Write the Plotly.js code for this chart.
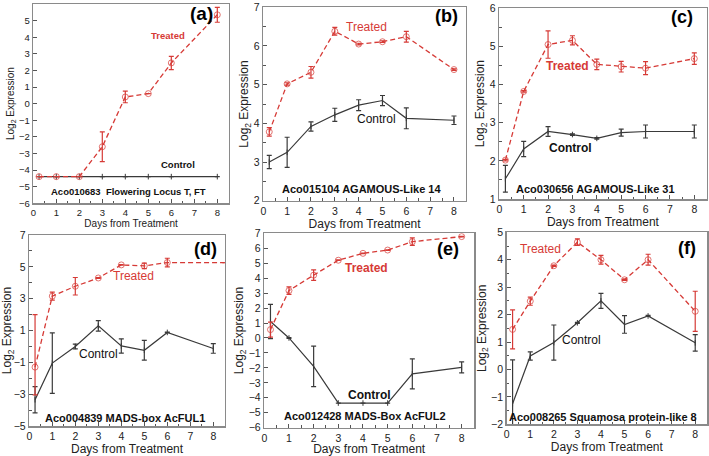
<!DOCTYPE html>
<html>
<head>
<meta charset="utf-8">
<script src="https://cdn.plot.ly/plotly-3.0.1.min.js"></script>
<style>html,body{margin:0;padding:0;background:#fff}#chart{width:709px;height:456px}</style>
</head>
<body>
<div id="chart"></div>
<script>
// ---- data (days from treatment) ----
const days = [0.25, 1, 2, 3, 4, 5, 6, 8];
const daysD = [0.25, 1, 2, 3, 4, 5, 6, 8.5];
const tickDays = [0, 1, 2, 3, 4, 5, 6, 7, 8];

// (a) Aco010683 Flowering Locus T, FT
const aTreated = [-4.4, -4.4, -4.4, -2.6, 0.4, 0.6, 2.45, 5.35];
const aTreatedErr = [0, 0, 0, 0.9, 0.35, 0, 0.4, 0.45];
const aControl = [-4.4, -4.4, -4.4, -4.4, -4.4, -4.4, -4.4, -4.4];
const aControlErr = [0, 0, 0, 0, 0, 0, 0, 0];

// (b) Aco015104 AGAMOUS-Like 14
const bTreated = [3.78, 5.02, 5.32, 6.38, 6.05, 6.11, 6.24, 5.39];
const bTreatedErr = [0.11, 0.03, 0.15, 0.1, 0.02, 0.02, 0.14, 0.02];
const bControl = [3.0, 3.25, 3.92, 4.22, 4.47, 4.59, 4.13, 4.08];
const bControlErr = [0.17, 0.39, 0.12, 0.17, 0.14, 0.13, 0.27, 0.11];

// (c) Aco030656 AGAMOUS-Like 31
const cTreated = [2.02, 3.82, 5.05, 5.16, 4.53, 4.47, 4.43, 4.68];
const cTreatedErr = [0.02, 0.02, 0.36, 0.12, 0.14, 0.14, 0.17, 0.15];
const cControl = [1.53, 2.31, 2.77, 2.69, 2.59, 2.74, 2.77, 2.77];
const cControlErr = [0.35, 0.2, 0.13, 0.02, 0.02, 0.09, 0.17, 0.17];

// (d) Aco004839 MADS-box AcFUL1
const dTreated = [-1.3, 3.16, 3.78, 4.3, 5.12, 5.06, 5.27, 5.27];
const dTreatedErr = [3.3, 0.25, 0.55, 0.02, 0.02, 0.17, 0.27, 0];
const dTreatedErrMinus = [1.75, 0.25, 0.55, 0.02, 0.02, 0.17, 0.27, 0];
const dControl = [-3.35, -1.05, 0.0, 1.29, 0.03, -0.24, 0.88, -0.13];
const dControlErr = [0.82, 1.9, 0.15, 0.33, 0.45, 0.62, 0.02, 0.3];

// (e) Aco012428 MADS-Box AcFUL2
const eTreated = [0.56, 3.17, 4.2, 5.2, 5.66, 5.88, 6.44, 6.78];
const eTreatedErr = [0.5, 0.25, 0.35, 0.02, 0.02, 0.02, 0.25, 0.02];
const eControl = [1.1, 0.0, -1.9, -4.35, -4.35, -4.35, -2.4, -1.97];
const eControlErr = [1.15, 0.02, 1.35, 0, 0, 0, 1.0, 0.37];

// (f) Aco008265 Squamosa protein-like 8
const fTreated = [1.46, 2.49, 3.78, 4.64, 4.0, 3.27, 4.0, 2.12];
const fTreatedErr = [0.71, 0.15, 0.02, 0.12, 0.16, 0.02, 0.2, 0.73];
const fControl = [-1.25, 0.49, 0.98, 1.7, 2.5, 1.64, 1.95, 0.97];
const fControlErr = [1.6, 0.15, 0.64, 0.02, 0.27, 0.32, 0.02, 0.3];

const geneNames = ['Aco010683  Flowering Locus T, FT', 'Aco015104 AGAMOUS-Like 14', 'Aco030656 AGAMOUS-Like 31',
                   'Aco004839 MADS-box AcFUL1', 'Aco012428 MADS-Box AcFUL2', 'Aco008265 Squamosa protein-like 8'];
const panelTags = ['(a)', '(b)', '(c)', '(d)', '(e)', '(f)'];
const seriesNames = ['Treated', 'Control'];

// ---- layout helpers ----
const W = 709, H = 456;
const RED = '#d63a36', BLK = '#3a3a3a';
const FONT = 'Liberation Sans, Arial, sans-serif';

const panels = [
  {tx: days, t: aTreated, te: aTreatedErr, c: aControl, ce: aControlErr, px: [33.3, 228.8], py: [4, 203.2], yr: [-6, 6], dt: 1, t0: 0, mdt: 0, fs: 9.5,
   lab: {tr: [5.86, 4.12, true], co: [6.29, -3.64, true], ti: [4.12, -5.27], tag: [7.3, 5.4]}, small: true},
  {tx: days, t: bTreated, te: bTreatedErr, c: bControl, ce: bControlErr, px: [263.3, 465.9], py: [7.3, 200.7], yr: [2, 7], dt: 1, t0: 0, mdt: 0.5, fs: 11,
   lab: {tr: [4.35, 6.49, false], co: [4.77, 4.11, false], ti: [4.14, 2.3], tag: [7.7, 6.78]}},
  {tx: days, t: cTreated, te: cTreatedErr, c: cControl, ce: cControlErr, px: [499.3, 706.5], py: [8.3, 199], yr: [1, 6], dt: 1, t0: 0, mdt: 0.5, fs: 11,
   lab: {tr: [2.78, 4.49, true], co: [2.94, 2.34, true], ti: [3.93, 1.26], tag: [7.5, 5.77]}},
  {tx: daysD, t: dTreated, te: dTreatedErr, tem: dTreatedErrMinus, c: dControl, ce: dControlErr, px: [29.3, 224.8], py: [235, 426], yr: [-5, 7], dt: 2, t0: 1, mdt: 1, fs: 11,
   lab: {tr: [4.51, 4.42, false], co: [3.0, -0.45, false], ti: [4.17, -4.5], tag: [7.64, 6.12]}},
  {tx: days, t: eTreated, te: eTreatedErr, c: eControl, ce: eControlErr, px: [264.3, 474], py: [233.3, 427.7], yr: [-6, 7], dt: 1, t0: 0, mdt: 0, fs: 11,
   lab: {tr: [4.16, 4.68, true], co: [4.28, -3.82, true], ti: [4.08, -5.22], tag: [7.45, 5.94]}},
  {tx: days, t: fTreated, te: fTreatedErr, c: fControl, ce: fControlErr, px: [506.7, 707], py: [232.3, 424.3], yr: [-2, 5], dt: 1, t0: 0, mdt: 0.5, fs: 11,
   lab: {tr: [1.45, 4.39, false], co: [3.19, 1.07, false], ti: [4.08, -1.73], tag: [7.64, 4.43]}}
];

const data = [];
const layout = {
  width: W, height: H, margin: {l: 0, r: 0, t: 0, b: 0},
  paper_bgcolor: '#fff', plot_bgcolor: '#fff', showlegend: false,
  font: {family: FONT, color: '#222'}, annotations: []
};

panels.forEach((p, i) => {
  const n = i === 0 ? '' : String(i + 1);
  const xa = 'x' + n, ya = 'y' + n;
  const fsTick = p.small ? 9.5 : 10.5;
  const fsTitle = p.small ? 10 : 12;
  // control (solid)
  data.push({
    type: 'scatter', mode: 'lines+markers', name: seriesNames[1], x: days, y: p.c, xaxis: xa, yaxis: ya,
    line: {color: BLK, width: 1.2},
    marker: {symbol: 'line-ns-open', size: 4, color: BLK, line: {color: BLK, width: 1}},
    error_y: {type: 'data', array: p.ce, visible: true, color: BLK, thickness: 1.2, width: 2.5}
  });
  // treated (dashed)
  const msz = p.tx.map(v => (v > 8 ? 0 : 6));
  const ey = {type: 'data', array: p.te, visible: true, color: RED, thickness: 1.2, width: 2.5};
  if (p.tem) { ey.symmetric = false; ey.arrayminus = p.tem; }
  data.push({
    type: 'scatter', mode: 'lines+markers', name: seriesNames[0], x: p.tx, y: p.t, xaxis: xa, yaxis: ya,
    line: {color: RED, width: 1.3, dash: '5px,3px'},
    marker: {symbol: 'circle-open', size: msz, color: RED, line: {color: RED, width: 1}},
    error_y: ey
  });
  const axBase = {
    showgrid: false, zeroline: false, showline: true, mirror: true, linecolor: '#8a8a8a', linewidth: 1.5,
    ticks: 'inside', ticklen: 4, tickwidth: 1, tickcolor: '#555',
    tickfont: {size: fsTick, family: FONT, color: '#222'}
  };
  layout['xaxis' + n] = Object.assign({}, axBase, {
    domain: [p.px[0] / W, p.px[1] / W], range: [0, 8.5], anchor: ya,
    tickmode: 'array', tickvals: tickDays, ticktext: tickDays.map(String),
    minor: {dtick: 0.5, tick0: 0, ticks: 'inside', ticklen: 2.5, tickcolor: '#555'},
    title: {text: 'Days from Treatment', font: {size: fsTitle, family: FONT, color: '#222'}, standoff: 3}
  });
  const ymin = {ticks: 'inside', ticklen: 2.5, tickcolor: '#555'};
  if (p.mdt) { ymin.dtick = p.mdt; ymin.tick0 = 0; }
  layout['yaxis' + n] = Object.assign({}, axBase, {
    domain: [1 - p.py[1] / H, 1 - p.py[0] / H], range: p.yr, anchor: xa,
    tick0: p.t0, dtick: p.dt, minor: p.mdt ? ymin : undefined,
    title: {text: 'Log<sub>2</sub> Expression', font: {size: fsTitle, family: FONT, color: '#222'}, standoff: 2}
  });
  const ann = (x, y, text, color, size, bold) => layout.annotations.push({
    xref: xa, yref: ya, x: x, y: y, text: bold ? '<b>' + text + '</b>' : text, showarrow: false,
    font: {family: FONT, size: size, color: color}, xanchor: 'center', yanchor: 'middle'
  });
  ann(p.lab.tr[0], p.lab.tr[1], seriesNames[0], RED, p.small ? 9.5 : 12, p.lab.tr[2]);
  ann(p.lab.co[0], p.lab.co[1], seriesNames[1], '#111', p.small ? 9.5 : 12, p.lab.co[2]);
  ann(p.lab.ti[0], p.lab.ti[1], geneNames[i], '#111', p.fs, true);
  ann(p.lab.tag[0], p.lab.tag[1], panelTags[i], '#000', p.small ? 19 : 18, true);
});

Plotly.newPlot('chart', data, layout, {staticPlot: true});
</script>
</body>
</html>
